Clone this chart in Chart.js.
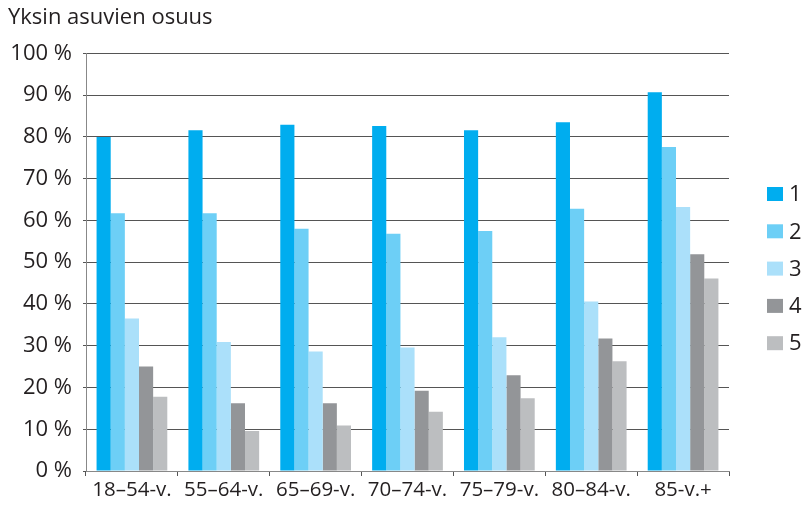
<!DOCTYPE html>
<html lang="fi">
<head>
  <meta charset="UTF-8" />
  <title>Yksin asuvien osuus</title>
  <script src="https://cdn.jsdelivr.net/npm/chart.js"></script>
  <style>
    body { margin: 0; background: #fff; }
    .wrap { width: 803px; height: 505px; }
  </style>
</head>
<body>
  <div class="wrap"><canvas id="chart" width="803" height="505"></canvas></div>
  <script>
    const ageGroups = ["18–54-v.", "55–64-v.", "65–69-v.", "70–74-v.", "75–79-v.", "80–84-v.", "85-v.+"];
    const series1 = [80.0, 81.6, 82.9, 82.6, 81.6, 83.5, 90.7];
    const series2 = [61.7, 61.7, 58.0, 56.8, 57.5, 62.8, 77.6];
    const series3 = [36.5, 30.9, 28.6, 29.6, 32.0, 40.6, 63.2];
    const series4 = [25.0, 16.2, 16.2, 19.2, 22.9, 31.7, 51.9];
    const series5 = [17.8, 9.6, 10.9, 14.2, 17.4, 26.3, 46.1];
    const seriesLabels = ["1", "2", "3", "4", "5"];
    const colors = ["#00adef", "#6dcff6", "#abe0fa", "#939598", "#bcbec0"];
    const yTicks = [0, 10, 20, 30, 40, 50, 60, 70, 80, 90, 100];

    const font = "'Open Sans', 'DejaVu Sans', sans-serif";
    const textColor = "#231f20";

    // legend drawn by hand so it can sit apart from the plot
    const sideLegend = {
      id: "sideLegend",
      afterDraw(chart) {
        const ctx = chart.ctx;
        ctx.save();
        ctx.font = "22px " + font;
        ctx.textBaseline = "middle";
        ctx.textAlign = "left";
        chart.data.datasets.forEach((ds, i) => {
          const cy = 194 + i * 37.3;
          ctx.fillStyle = ds.backgroundColor;
          ctx.fillRect(767, cy - 7, 16, 14);
          ctx.fillStyle = textColor;
          ctx.fillText(ds.label, 789, cy + 1);
        });
        ctx.restore();
      }
    };

    const allSeries = [series1, series2, series3, series4, series5];

    new Chart(document.getElementById("chart"), {
      type: "bar",
      data: {
        labels: ageGroups,
        datasets: allSeries.map((vals, i) => ({
          label: seriesLabels[i],
          data: vals,
          backgroundColor: colors[i],
          borderWidth: 0,
          categoryPercentage: 0.77,
          barPercentage: 1.0
        }))
      },
      options: {
        responsive: false,
        animation: false,
        layout: { padding: { left: 8, right: 74, top: 0, bottom: 0 } },
        plugins: {
          legend: { display: false },
          tooltip: { enabled: false },
          title: {
            display: true,
            text: "Yksin asuvien osuus",
            align: "start",
            color: textColor,
            font: { family: font, size: 22, weight: "normal" },
            padding: { top: 5, bottom: 22 }
          }
        },
        scales: {
          x: {
            afterFit: s => { s.height = 34; },
            grid: { display: true, drawOnChartArea: false, offset: true, color: "#555", tickLength: 5 },
            border: { color: "#888" },
            ticks: { color: textColor, font: { family: font, size: 20.5 }, padding: 2, maxRotation: 0 }
          },
          y: {
            min: 0,
            max: 100,
            afterFit: s => { s.width = 78; },
            afterBuildTicks: s => { s.ticks = yTicks.map(v => ({ value: v })); },
            grid: { color: "#555", tickLength: 3 },
            border: { color: "#888" },
            ticks: {
              color: textColor,
              font: { family: font, size: 22 },
              padding: 11,
              callback: v => v + " %"
            }
          }
        }
      },
      plugins: [sideLegend]
    });
  </script>
</body>
</html>
